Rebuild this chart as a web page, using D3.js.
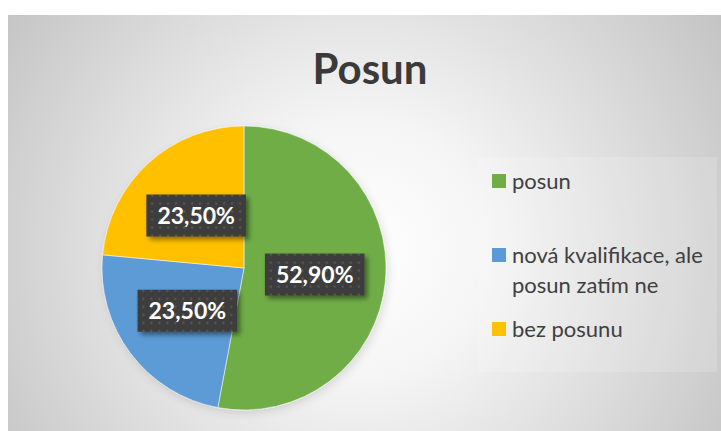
<!DOCTYPE html>
<html>
<head>
<meta charset="utf-8">
<script src="https://cdn.jsdelivr.net/npm/d3@7"></script>
<style>
  body { margin: 0; background: #fff; }
  svg { display: block; }
</style>
</head>
<body>
<svg id="chart" width="721" height="431"></svg>
<script>
// data
const title = "Posun";
const categories = ["posun", "nová kvalifikace, ale posun zatím ne", "bez posunu"];
const values = [52.9, 23.5, 23.5];
const colors = ["#70ad47", "#5b9bd5", "#ffc000"];

const svg = d3.select("#chart");
const font = "Lato, 'Open Sans', sans-serif";

// Czech number format: comma as decimal separator
const cz = d3.formatLocale({ decimal: ",", thousands: " ", grouping: [3], currency: ["", " Kč"] });
const fmt = v => cz.format(".2f")(v) + "%";

const defs = svg.append("defs");

// background gradient
const bg = defs.append("radialGradient")
    .attr("id", "bg")
    .attr("gradientUnits", "userSpaceOnUse")
    .attr("cx", 360).attr("cy", 250).attr("r", 430);
bg.append("stop").attr("offset", "0%").attr("stop-color", "#ffffff");
bg.append("stop").attr("offset", "30%").attr("stop-color", "#f5f5f5");
bg.append("stop").attr("offset", "100%").attr("stop-color", "#c4c4c4");

// dotted pattern for the label boxes
const pat = defs.append("pattern")
    .attr("id", "dots")
    .attr("patternUnits", "userSpaceOnUse")
    .attr("width", 8).attr("height", 8);
pat.append("rect").attr("width", 8).attr("height", 8).attr("fill", "#3d3d3d");
pat.append("circle").attr("cx", 4).attr("cy", 4).attr("r", 1.2).attr("fill", "#565656");

const shadow = defs.append("filter").attr("id", "shadow")
    .attr("x", "-20%").attr("y", "-20%").attr("width", "150%").attr("height", "160%");
shadow.append("feDropShadow")
    .attr("dx", 3).attr("dy", 3).attr("stdDeviation", 2.5)
    .attr("flood-color", "#000").attr("flood-opacity", 0.45);

const pieShadow = defs.append("filter").attr("id", "pieShadow")
    .attr("x", "-20%").attr("y", "-20%").attr("width", "140%").attr("height", "140%");
pieShadow.append("feDropShadow")
    .attr("dx", 2).attr("dy", 3).attr("stdDeviation", 4)
    .attr("flood-color", "#000").attr("flood-opacity", 0.12);

// chart area
svg.append("rect")
    .attr("x", 8).attr("y", 15)
    .attr("width", 713).attr("height", 416)
    .attr("fill", "url(#bg)");

// title
svg.append("text")
    .attr("x", 370).attr("y", 84)
    .attr("text-anchor", "middle")
    .attr("font-family", font)
    .attr("font-weight", "bold")
    .attr("font-size", 42)
    .attr("fill", "#3a3a3a")
    .text(title);

// pie
const cx = 244, cy = 268, radius = 142;
const pie = d3.pie().sort(null).value(d => d);
const arcs = pie(values);
const arc = d3.arc().innerRadius(0).outerRadius(radius);
const labelArc = d3.arc().innerRadius(radius * 0.5).outerRadius(radius * 0.5);

const g = svg.append("g").attr("transform", `translate(${cx},${cy})`);

g.append("g").attr("filter", "url(#pieShadow)")
  .selectAll("path")
  .data(arcs)
  .join("path")
    .attr("d", arc)
    .attr("fill", (d, i) => colors[i])
    .attr("stroke", "#ffffff")
    .attr("stroke-opacity", 0.5)
    .attr("stroke-width", 1);

// data labels
const labels = g.selectAll("g.label")
  .data(arcs)
  .join("g")
    .attr("class", "label")
    .attr("transform", d => `translate(${labelArc.centroid(d)})`);

labels.append("rect").attr("class", "box");
labels.append("text")
    .attr("text-anchor", "middle")
    .attr("dy", "0.36em")
    .attr("font-family", font)
    .attr("font-weight", "bold")
    .attr("font-size", 23)
    .attr("fill", "#ffffff")
    .text(d => fmt(d.data));

labels.each(function () {
    const el = d3.select(this);
    const w = el.select("text").node().getComputedTextLength() + 22;
    const h = 42;
    el.select("rect")
        .attr("x", -w / 2).attr("y", -h / 2)
        .attr("width", w).attr("height", h)
        .attr("fill", "url(#dots)")
        .attr("filter", "url(#shadow)");
});

// legend
svg.append("rect")
    .attr("x", 478).attr("y", 157)
    .attr("width", 239).attr("height", 215)
    .attr("fill", "#ffffff").attr("fill-opacity", 0.15);

const legend = svg.append("g").attr("transform", "translate(492,181)");
const maxW = 200;
const lineH = 30;

const items = legend.selectAll("g")
  .data(categories)
  .join("g")
    .attr("transform", (d, i) => `translate(0,${i * 74})`);

items.append("rect")
    .attr("x", 0).attr("y", -7)
    .attr("width", 14).attr("height", 14)
    .attr("fill", (d, i) => colors[i]);

items.each(function (d) {
    const text = d3.select(this).append("text")
        .attr("x", 20).attr("y", 0)
        .attr("font-family", font)
        .attr("font-size", 22)
        .attr("fill", "#404040");
    const words = d.split(" ");
    let line = [];
    let n = 0;
    let tspan = text.append("tspan").attr("x", 20).attr("y", 0).attr("dy", "0.36em");
    words.forEach(w => {
        line.push(w);
        tspan.text(line.join(" "));
        if (tspan.node().getComputedTextLength() > maxW && line.length > 1) {
            line.pop();
            tspan.text(line.join(" "));
            line = [w];
            n += 1;
            tspan = text.append("tspan").attr("x", 20).attr("y", n * lineH).attr("dy", "0.36em").text(w);
        }
    });
});
</script>
</body>
</html>
